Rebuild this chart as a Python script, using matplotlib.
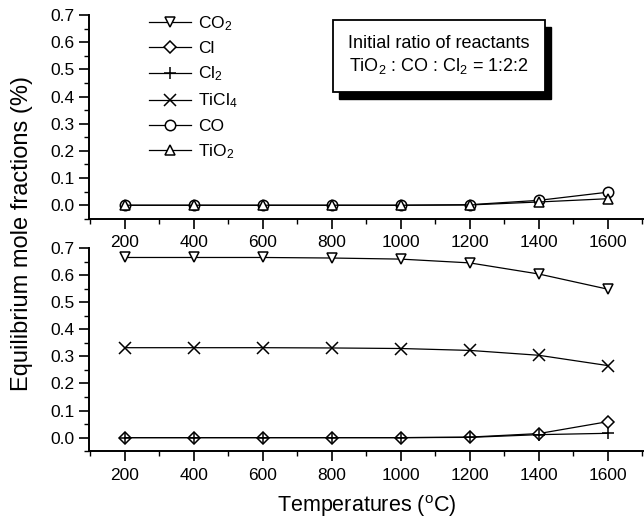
import matplotlib
matplotlib.use("Agg")
import matplotlib.pyplot as plt
from matplotlib.ticker import MultipleLocator
from matplotlib.lines import Line2D
from matplotlib.patches import Rectangle

plt.rcParams['font.family'] = ['Liberation Sans', 'DejaVu Sans']
plt.rcParams['mathtext.default'] = 'regular'

temperatures = [200, 400, 600, 800, 1000, 1200, 1400, 1600]

# upper panel species
co = [0.0, 0.0, 0.0, 0.0, 0.0, 0.002, 0.018, 0.048]
tio2 = [0.0, 0.0, 0.0, 0.0, 0.0, 0.001, 0.012, 0.024]

# lower panel species
co2 = [0.665, 0.665, 0.665, 0.663, 0.659, 0.645, 0.604, 0.548]
ticl4 = [0.332, 0.332, 0.332, 0.331, 0.329, 0.322, 0.304, 0.266]
cl = [0.0, 0.0, 0.0, 0.0, 0.0, 0.002, 0.015, 0.059]
cl2 = [0.0, 0.0, 0.0, 0.0, 0.0, 0.001, 0.011, 0.016]

labels = ['CO$_2$', 'Cl', 'Cl$_2$', 'TiCl$_4$', 'CO', 'TiO$_2$']
markers = ['v', 'D', '+', 'x', 'o', '^']
msizes = [7.5, 6.5, 9, 8.5, 7.5, 7.5]

xticks = [200, 400, 600, 800, 1000, 1200, 1400, 1600]
yticks = [0.0, 0.1, 0.2, 0.3, 0.4, 0.5, 0.6, 0.7]
yticklabels = ['0.0', '0.1', '0.2', '0.3', '0.4', '0.5', '0.6', '0.7']

fig = plt.figure(figsize=(6.44, 5.21), dpi=100)
ax_top = fig.add_axes([0.138, 0.580, 0.862, 0.391])
ax_bot = fig.add_axes([0.138, 0.134, 0.862, 0.390])

style = dict(color='black', lw=0.9, mfc='white', mec='black', mew=1.1)


def draw(ax, y, idx):
    ax.plot(temperatures, y, marker=markers[idx], ms=msizes[idx], **style)


draw(ax_top, co, 4)
draw(ax_top, tio2, 5)
draw(ax_bot, co2, 0)
draw(ax_bot, ticl4, 3)
draw(ax_bot, cl, 1)
draw(ax_bot, cl2, 2)

for ax in (ax_top, ax_bot):
    ax.set_xlim(96, 1705)
    ax.set_ylim(-0.05, 0.7)
    ax.spines['top'].set_visible(False)
    ax.spines['right'].set_visible(False)
    ax.spines['left'].set_linewidth(1.4)
    ax.spines['bottom'].set_linewidth(1.4)
    ax.xaxis.set_minor_locator(MultipleLocator(100))
    ax.yaxis.set_minor_locator(MultipleLocator(0.05))
    ax.set_xticks(xticks)
    ax.set_yticks(yticks)
    ax.set_yticklabels(yticklabels)
    ax.tick_params(axis='both', which='major', direction='out', length=7, width=1.2,
                   labelsize=12.5, color='black')
    ax.tick_params(axis='both', which='minor', direction='out', length=3.5, width=1.0)
    ax.tick_params(axis='x', pad=5)
    ax.tick_params(axis='y', pad=3)
    ax.set_facecolor('none')

handles = [Line2D([0], [0], marker=m, ms=s, **style) for m, s in zip(markers, msizes)]
ax_top.legend(handles, labels, loc='upper left', bbox_to_anchor=(0.108, 1.005),
              frameon=False, fontsize=12.5, handlelength=2.45, handletextpad=0.4,
              labelspacing=0.48, borderpad=0, borderaxespad=0)

# annotation box with drop shadow
bx, by, bw, bh = 0.44, 0.623, 0.382, 0.352
ax_top.add_patch(Rectangle((bx + 0.011, by - 0.034), bw, bh, transform=ax_top.transAxes,
                           facecolor='black', edgecolor='black', zorder=4, clip_on=False))
ax_top.add_patch(Rectangle((bx, by), bw, bh, transform=ax_top.transAxes,
                           facecolor='white', edgecolor='black', lw=1.3, zorder=5,
                           clip_on=False))
ax_top.text(bx + bw / 2, 0.863, 'Initial ratio of reactants',
            transform=ax_top.transAxes, ha='center', va='center', fontsize=13, zorder=6)
ax_top.text(bx + bw / 2, 0.752, 'TiO$_2$ : CO : Cl$_2$ = 1:2:2',
            transform=ax_top.transAxes, ha='center', va='center', fontsize=13, zorder=6)

fig.text(0.034, 0.551, 'Equilibrium mole fractions (%)', rotation=90,
         ha='center', va='center', fontsize=17)
fig.text(0.57, 0.029, 'Temperatures ($^{o}$C)', ha='center', va='center', fontsize=15.5)

fig.savefig('out.png', dpi=100)
